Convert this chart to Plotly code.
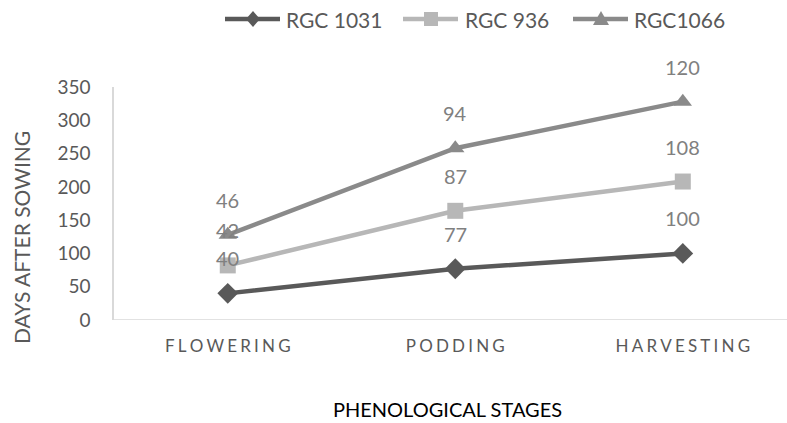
import numpy as np
import plotly.graph_objects as go

stages = ["FLOWERING", "PODDING", "HARVESTING"]
series_names = ["RGC 1031", "RGC 936", "RGC1066"]
rgc_1031 = [40, 77, 100]
rgc_936 = [42, 87, 108]
rgc_1066 = [46, 94, 120]

colors = ["#595959", "#b7b7b7", "#8a8a8a"]
symbols = ["diamond", "square", "triangle-up"]
FONT = "Lato, Open Sans, Arial"
W, H = 787, 423
L, R, T, B = 114, 0, 87, 103

# stacked line: each series sits on top of the previous ones
values = [rgc_1031, rgc_936, rgc_1066]
stacked = np.cumsum(np.array(values), axis=0)


def spaced(s):
    return "\u2009\u200a".join(s)


def px_to_paper(px, py):
    return (px - L) / (W - L - R), (H - B - py) / (H - T - B)


x_idx = list(range(len(stages)))

fig = go.Figure()
for name, vals, tops, col, sym in zip(series_names, values, stacked, colors, symbols):
    fig.add_trace(go.Scatter(
        x=x_idx, y=tops.tolist(), name=name, mode="lines+markers",
        line=dict(color=col, width=4.5),
        marker=dict(symbol=sym, size=16, color=col),
        cliponaxis=False, showlegend=False,
    ))
    for xi, v, t in zip(x_idx, vals, tops):
        fig.add_annotation(x=xi, y=float(t), text=str(v), showarrow=False,
                           yshift=35, font=dict(size=20, color="#808080", family=FONT))

# legend row drawn above the plot: line segment, marker glyph, label
marker_paths = {
    "diamond": "M0,8 L7,0 L0,-8 L-7,0 Z",
    "square": "M-7,-7 L7,-7 L7,7 L-7,7 Z",
    "triangle-up": "M-8,-6 L8,-6 L0,8 Z",
}
legend_marker_px = [253, 431, 601]
legend_text_px = [284, 463, 632]
legend_y_px = 19
for name, col, sym, mx, tx in zip(series_names, colors, symbols, legend_marker_px, legend_text_px):
    ax, ay = px_to_paper(mx, legend_y_px)
    fig.add_shape(type="line", xref="paper", yref="paper", xsizemode="pixel",
                  ysizemode="pixel", xanchor=ax, yanchor=ay, x0=-28, x1=27, y0=0, y1=0,
                  line=dict(color=col, width=4.5))
    fig.add_shape(type="path", xref="paper", yref="paper", xsizemode="pixel",
                  ysizemode="pixel", xanchor=ax, yanchor=ay, path=marker_paths[sym],
                  fillcolor=col, line=dict(width=0))
    tx_p, ty_p = px_to_paper(tx, legend_y_px)
    fig.add_annotation(xref="paper", yref="paper", x=tx_p, y=ty_p, text=name,
                       xanchor="left", yanchor="middle", showarrow=False,
                       font=dict(size=21, color="#595959", family=FONT))

# axis titles
xt, yt = px_to_paper(447, 409)
fig.add_annotation(xref="paper", yref="paper", x=xt, y=yt, text="PHENOLOGICAL STAGES",
                   showarrow=False, xanchor="center", yanchor="middle",
                   font=dict(size=20, color="#000000", family=FONT))
xt, yt = px_to_paper(21, 238)
fig.add_annotation(xref="paper", yref="paper", x=xt, y=yt, text="DAYS AFTER SOWING",
                   showarrow=False, xanchor="center", yanchor="middle", textangle=-90,
                   font=dict(size=21, color="#595959", family=FONT))

fig.update_layout(
    width=W, height=H,
    margin=dict(l=L, r=R, t=T, b=B),
    paper_bgcolor="white", plot_bgcolor="white",
    font=dict(family=FONT, color="#595959"),
    showlegend=False,
)
fig.update_xaxes(
    range=[-0.5, 2.458], tickmode="array", tickvals=x_idx,
    ticktext=[spaced(s) for s in stages],
    tickfont=dict(size=17, color="#595959", family=FONT),
    ticklabelstandoff=14,
    showgrid=False, zeroline=False, showline=False, ticks="",
)
fig.update_yaxes(
    range=[0, 350], dtick=50, showgrid=False, zeroline=False,
    showline=True, linecolor="#d9d9d9", linewidth=1.5, ticks="",
    tickfont=dict(size=19, color="#595959", family=FONT),
    ticklabelstandoff=18,
)
# bottom axis line
fig.add_shape(type="line", xref="paper", yref="y", x0=0, x1=1, y0=0, y1=0,
              line=dict(color="#d9d9d9", width=1.5), layer="below")

fig.write_html("out.html")
